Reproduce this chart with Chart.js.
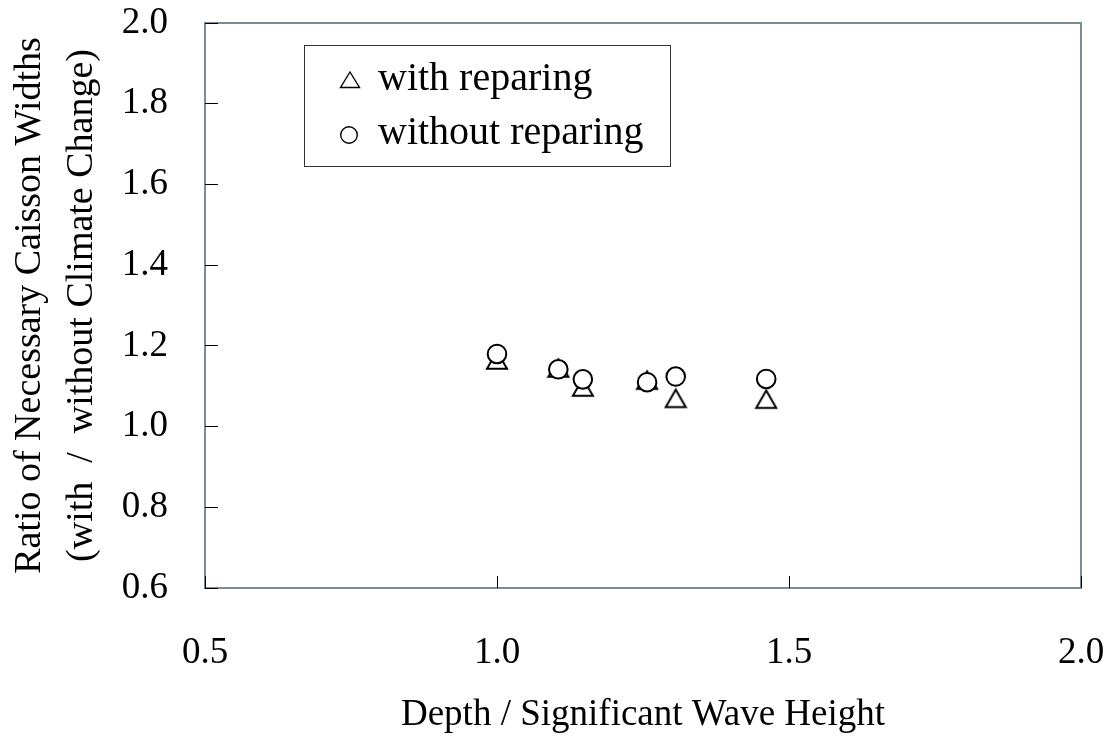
<!DOCTYPE html>
<html>
<head>
<meta charset="utf-8">
<script src="https://cdn.jsdelivr.net/npm/chart.js@4/dist/chart.umd.min.js"></script>
<style>
  html, body { margin: 0; padding: 0; background: #fff; }
  canvas { display: block; }
</style>
</head>
<body>
<canvas id="ratio" width="1108" height="740"></canvas>
<script>
// depth / significant wave height for each case
const depthRatio = [1.0, 1.105, 1.147, 1.257, 1.306, 1.461];
// width ratio (with / without climate change)
const withRepairing = [1.165, 1.145, 1.098, 1.115, 1.07, 1.068];
const withoutRepairing = [1.18, 1.142, 1.117, 1.11, 1.124, 1.118];

const seriesNames = ['with reparing', 'without reparing'];
const yTitle = ['Ratio of Necessary Caisson Widths', '(with  /  without Climate Change)'];
const xTitle = 'Depth / Significant Wave Height';

const serif = "'Liberation Serif', 'Times New Roman', serif";
const frameColor = '#7b8d92';

// open triangle marker, centred on its bounding box
function triangleMarker(w, lw) {
  const h = w * Math.sqrt(3) / 2;
  const c = document.createElement('canvas');
  c.width = Math.ceil(w + lw * 2);
  c.height = Math.ceil(h + lw * 2);
  const g = c.getContext('2d');
  const x0 = (c.width - w) / 2, y0 = (c.height - h) / 2;
  g.beginPath();
  g.moveTo(c.width / 2, y0);
  g.lineTo(x0 + w, y0 + h);
  g.lineTo(x0, y0 + h);
  g.closePath();
  g.fillStyle = '#fff';
  g.fill();
  g.lineWidth = lw;
  g.lineJoin = 'miter';
  g.strokeStyle = '#000';
  g.stroke();
  return c;
}

const toPoints = ys => ys.map((y, i) => ({ x: depthRatio[i], y }));

// plot frame drawn under the tick marks
const frame = {
  id: 'frame',
  beforeDraw(chart) {
    const { ctx, chartArea: a } = chart;
    ctx.save();
    ctx.strokeStyle = frameColor;
    ctx.lineWidth = 2;
    ctx.strokeRect(a.left, a.top, a.right - a.left, a.bottom - a.top);
    ctx.restore();
  }
};

// boxed legend in the upper left of the plot
const boxLegend = {
  id: 'boxLegend',
  afterDraw(chart) {
    const { ctx, chartArea: a } = chart;
    const left = a.left + 99, top = a.top + 22, w = 366, h = 121;
    ctx.save();
    ctx.fillStyle = '#fff';
    ctx.fillRect(left, top, w, h);
    ctx.strokeStyle = '#333';
    ctx.lineWidth = 1;
    ctx.strokeRect(left + 0.5, top + 0.5, w, h);

    ctx.lineWidth = 1.4;
    ctx.strokeStyle = '#000';
    // triangle symbol
    const tx = left + 46, ty = top + 35;
    ctx.beginPath();
    ctx.moveTo(tx, ty - 8);
    ctx.lineTo(tx + 9.5, ty + 7.5);
    ctx.lineTo(tx - 9.5, ty + 7.5);
    ctx.closePath();
    ctx.stroke();
    // circle symbol
    ctx.beginPath();
    ctx.arc(left + 45, top + 90, 8.3, 0, Math.PI * 2);
    ctx.stroke();

    ctx.fillStyle = '#000';
    ctx.font = '40px ' + serif;
    ctx.textBaseline = 'alphabetic';
    ctx.textAlign = 'left';
    const names = chart.data.datasets.map(d => d.label);
    ctx.fillText(names[0], left + 74, top + 45);
    ctx.fillText(names[1], left + 74, top + 99);
    ctx.restore();
  }
};

Chart.defaults.font.family = serif;
Chart.defaults.color = '#000';

new Chart(document.getElementById('ratio'), {
  type: 'scatter',
  data: {
    datasets: [
      {
        label: seriesNames[0],
        data: toPoints(withRepairing),
        pointStyle: triangleMarker(20, 2),
        pointRadius: 10,
        order: 2
      },
      {
        label: seriesNames[1],
        data: toPoints(withoutRepairing),
        pointStyle: 'circle',
        pointRadius: 9.3,
        pointBorderWidth: 2,
        pointBorderColor: '#000',
        pointBackgroundColor: '#fff',
        order: 1
      }
    ]
  },
  options: {
    responsive: false,
    animation: false,
    layout: { padding: { top: 23, right: 27, left: 0, bottom: 0 } },
    plugins: {
      legend: { display: false },
      tooltip: { enabled: false }
    },
    scales: {
      x: {
        type: 'linear',
        min: 0.5,
        max: 2.0,
        afterFit: s => {
          s.height = 152;
          s.paddingLeft = 0;
          s.paddingRight = 0;
        },
        border: { display: false },
        grid: {
          drawOnChartArea: false,
          drawTicks: true,
          tickLength: -12,
          color: '#000',
          lineWidth: 1
        },
        ticks: {
          stepSize: 0.5,
          padding: 55,
          font: { size: 37 },
          callback: v => v.toFixed(1)
        },
        title: {
          display: true,
          text: xTitle,
          font: { size: 37 },
          padding: { top: 0, bottom: 3 }
        }
      },
      y: {
        type: 'linear',
        min: 0.6,
        max: 2.0,
        afterFit: s => {
          s.width = 205;
          s.paddingTop = 0;
          s.paddingBottom = 0;
        },
        border: { display: false },
        grid: {
          drawOnChartArea: false,
          drawTicks: true,
          tickLength: -13,
          color: '#000',
          lineWidth: 1
        },
        ticks: {
          stepSize: 0.2,
          padding: 50,
          font: { size: 37 },
          callback: v => v.toFixed(1)
        },
        title: {
          display: true,
          text: yTitle,
          font: { size: 38, lineHeight: 1.37 },
          padding: { top: 4, bottom: 0 }
        }
      }
    }
  },
  plugins: [frame, boxLegend]
});
</script>
</body>
</html>
